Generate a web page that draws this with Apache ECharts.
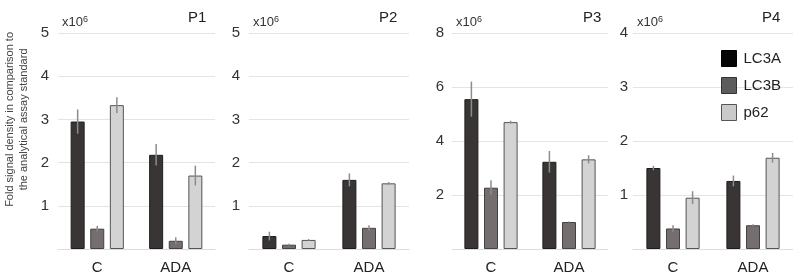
<!DOCTYPE html>
<html>
<head>
<meta charset="utf-8">
<script src="https://cdn.jsdelivr.net/npm/echarts@6/dist/echarts.min.js"></script>
<style>
  html, body { margin: 0; padding: 0; background: #fff; }
  #main { width: 793px; height: 278px; }
</style>
</head>
<body>
<div id="main"></div>
<script>
// data (values in units of 10^6)
const categories = ['C', 'ADA'];
const panels = ['P1', 'P2', 'P3', 'P4'];
const yMax = [5, 5, 8, 4];
const yStep = [1, 1, 2, 1];

const lc3a = [[2.95, 2.18], [0.30, 1.60], [5.55, 3.23], [1.50, 1.26]];
const lc3b = [[0.47, 0.19], [0.10, 0.49], [2.27, 1.00], [0.38, 0.44]];
const p62 = [[3.33, 1.70], [0.21, 1.52], [4.70, 3.32], [0.95, 1.69]];

const lc3aErr = [[0.28, 0.25], [0.10, 0.15], [0.65, 0.40], [0.04, 0.10]];
const lc3bErr = [[0.06, 0.08], [0.02, 0.06], [0.28, 0.02], [0.06, 0.02]];
const p62Err = [[0.18, 0.23], [0.02, 0.03], [0.05, 0.15], [0.12, 0.09]];

const font = 'Liberation Sans, Arial, sans-serif';
const barW = 14;
const step = barW * 1.4; // bar width + gap (barGap 40%)

// grid boxes for the 4 panels
const grids = [
  { left: 58, width: 157 },
  { left: 249, width: 160 },
  { left: 452, width: 156 },
  { left: 633, width: 160 }
];
const titlePos = [183, 374, 578, 757];

const seriesDefs = [
  { name: 'LC3A', vals: lc3a, errs: lc3aErr, color: '#3a3535', border: '#1f1c1c', off: -step },
  { name: 'LC3B', vals: lc3b, errs: lc3bErr, color: '#746e6e', border: '#454141', off: 0 },
  { name: 'p62', vals: p62, errs: p62Err, color: '#d3d3d3', border: '#555555', off: step }
];

function errItem(offset) {
  return function (params, api) {
    const x = api.value(0);
    const v = api.value(1);
    const e = api.value(2);
    const top = api.coord([x, v + e]);
    const bot = api.coord([x, v - e]);
    return {
      type: 'line',
      shape: { x1: top[0] + offset, y1: top[1], x2: top[0] + offset, y2: bot[1] },
      style: { stroke: '#8c8c8c', lineWidth: 1.5 }
    };
  };
}

const grid = [], xAxis = [], yAxis = [], series = [], title = [];
panels.forEach((p, i) => {
  grid.push({ left: grids[i].left, width: grids[i].width, top: 33, bottom: 29 });
  title.push({
    text: p, left: titlePos[i], top: 5,
    textStyle: { fontFamily: font, fontSize: 15, fontWeight: 'normal', color: '#222' }
  });
  xAxis.push({
    type: 'category', gridIndex: i, data: categories,
    axisLine: { lineStyle: { color: '#dcdcdc' } },
    axisTick: { show: false },
    axisLabel: { fontFamily: font, fontSize: 15, color: '#222', margin: 11 }
  });
  yAxis.push({
    type: 'value', gridIndex: i, min: 0, max: yMax[i], interval: yStep[i],
    name: 'x10{s|6}',
    nameLocation: 'end', nameGap: 3,
    nameTextStyle: {
      fontFamily: font, fontSize: 13, color: '#333', align: 'left', padding: [0, 0, 0, 4],
      rich: { s: { fontFamily: font, fontSize: 9, color: '#333', verticalAlign: 'top', padding: [0, 0, 6, 0] } }
    },
    axisLine: { show: false },
    axisTick: { show: false },
    splitLine: { lineStyle: { color: '#e4e4e4' } },
    axisLabel: {
      fontFamily: font, fontSize: 15, color: '#333',
      margin: i === 3 ? 5 : (i === 2 ? 8 : 9),
      showMinLabel: false
    }
  });
  seriesDefs.forEach(s => {
    series.push({
      name: s.name, type: 'bar', xAxisIndex: i, yAxisIndex: i,
      data: s.vals[i], barWidth: barW, barGap: '40%',
      itemStyle: { color: s.color, borderColor: s.border, borderWidth: 1 }
    });
  });
  seriesDefs.forEach(s => {
    series.push({
      type: 'custom', xAxisIndex: i, yAxisIndex: i, z: 5,
      renderItem: errItem(s.off),
      data: s.vals[i].map((v, k) => [k, v, s.errs[i][k]])
    });
  });
});

const chart = echarts.init(document.getElementById('main'), null, { renderer: 'canvas' });
chart.setOption({
  animation: false,
  title: title,
  grid: grid,
  xAxis: xAxis,
  yAxis: yAxis,
  legend: {
    orient: 'vertical', left: 721, top: 50, padding: 0,
    itemWidth: 15, itemHeight: 16, itemGap: 10,
    icon: 'rect',
    textStyle: { fontFamily: font, fontSize: 15, color: '#222', padding: [0, 0, 0, 2] },
    data: [
      { name: 'LC3A', itemStyle: { color: '#050505', borderColor: '#000', borderWidth: 1 } },
      { name: 'LC3B', itemStyle: { color: '#5c5c5c', borderColor: '#333', borderWidth: 1 } },
      { name: 'p62', itemStyle: { color: '#cacaca', borderColor: '#555', borderWidth: 1 } }
    ]
  },
  graphic: [{
    type: 'text',
    left: 3, top: 32,
    rotation: Math.PI / 2,
    style: {
      text: 'Fold signal density in comparison to\nthe analytical assay standard',
      fontFamily: font, fontSize: 11, lineHeight: 14,
      fill: '#444', textAlign: 'center'
    }
  }],
  series: series
});
</script>
</body>
</html>
